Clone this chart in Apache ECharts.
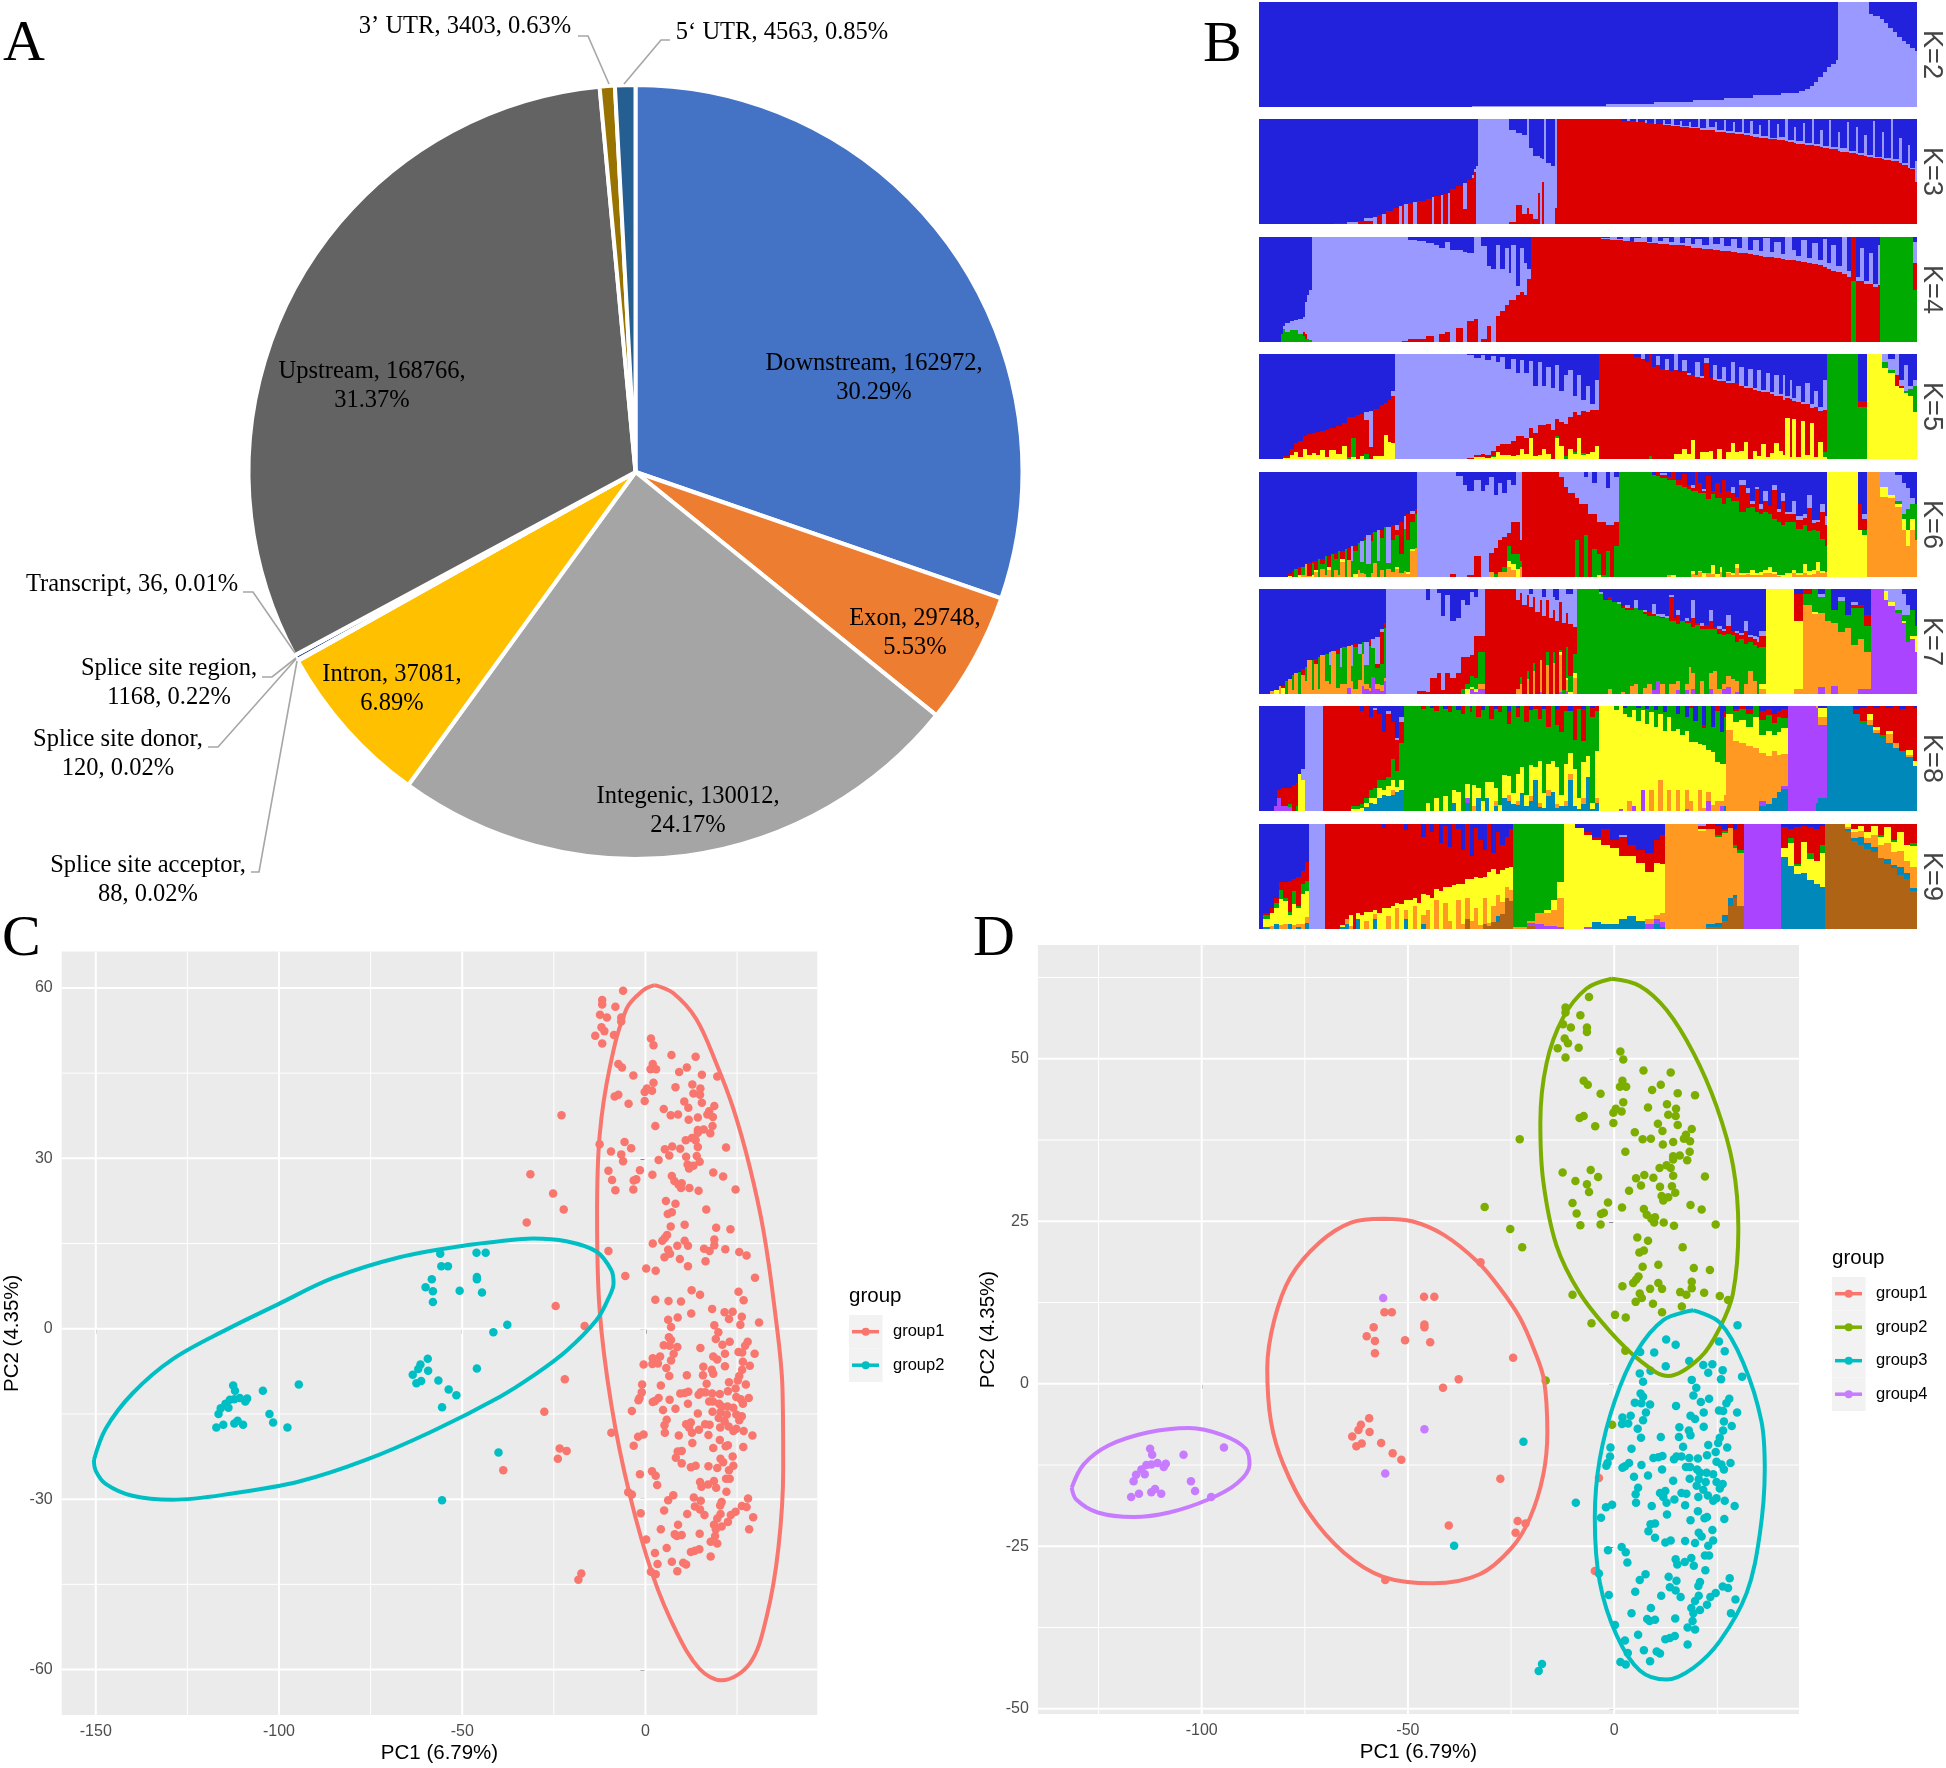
<!DOCTYPE html>
<html><head><meta charset="utf-8"><style>html,body{margin:0;padding:0;background:#fff}#c{width:1946px;height:1768px}</style>
<script src="https://cdn.jsdelivr.net/npm/echarts@6/dist/echarts.min.js"></script></head><body><div id="c"></div><script>
// ---------- A: annotation pie ----------
const pieNames=['Downstream','Exon','Integenic','Intron','Splice site acceptor','Splice site donor','Splice site region','Transcript','Upstream','3’ UTR','5‘ UTR'];
const pieValues=[162972,29748,130012,37081,88,120,1168,36,168766,3403,4563];
const pieLabels=['Downstream, 162972,\n30.29%','Exon, 29748,\n5.53%','Integenic, 130012,\n24.17%','Intron, 37081,\n6.89%','Splice site acceptor,\n88, 0.02%','Splice site donor,\n120, 0.02%','Splice site region,\n1168, 0.22%','Transcript, 36, 0.01%','Upstream, 168766,\n31.37%','3’ UTR, 3403, 0.63%','5‘ UTR, 4563, 0.85%'];
const pieColors=['#4472C4','#ED7D31','#A5A5A5','#FFC000','#5B9BD5','#70AD47','#264478','#9E480E','#636363','#997300','#255E91'];
const pieLabelAt=[[874,378],[915,633],[688,811],[392,689],[148,880],[118,754],[169,683],[132,585],[372,386],[465,27],[782,33]];
const leaders=[[[578,36],[588,36],[609,84]],[[670,40],[661,40],[624,84]],[[243,592],[253,592],[295,653]],[[262,677],[272,677],[296,658]],[[208,747],[218,747],[296,659]],[[251,872],[259,872],[297,661]]];

// ---------- B: ancestry proportions; each row = [first individual, share of each cluster top-down]; the last cluster takes the rest ----------
const clusterColors=['#2222DC','#9999FF','#DD0000','#00AA00','#FFFF22','#FF9922','#AA44FF','#0088BB','#AE6414'];
const kRows2=[[0,100],[97,99.5],[130,99],[158,97.5],[180,95.5],[198,93],[212,91],[225,89],[238,87],[246,85],[249,83],[251,80],[253,76],[255,71],[257,67],[259,62],[261,59],[263,55],[264,0],[278,11],[280,13],[283,16],[285,20],[287,25],[289,29],[291,33],[293,37],[295,40],[297,44],[299,47]];
const kRows3=[[0,100],[34,99],[40,98,2],[45,97],[48,94,3],[52,93,7],[54,91],[56,90,10],[58,88],[61,85],[64,83,17],[65,82],[66,81,19],[68,80],[70,79,21],[72,78],[76,76],[79,74,26],[80,73],[83,72,28],[84,71],[86,70,30],[87,67],[90,64],[93,61,25],[95,58],[97,53,3],[98,48,2],[99,45,55],[100,0,100],[114,10,88],[117,13,69],[120,15,75],[122,0,85],[123,28,62],[125,35,60],[127,35,35],[128,37,63],[129,38,22],[130,0,100],[131,42,58],[133,45,55],[135,0,85],[136,0,0],[165,2,0],[168,0,2],[169,2,0],[172,0,3],[173,3,0],[176,1,3],[177,4,0],[180,0,5],[181,5,0],[184,1,5],[185,5,1],[188,0,7],[189,6,1],[192,2,6],[193,7,1],[196,3,6],[197,8,1],[200,0,9],[201,9,1],[204,0,10],[205,8,2],[208,3,9],[209,10,2],[212,1,11],[213,11,2],[216,3,10],[217,12,2],[220,0,14],[221,13,2],[224,2,14],[225,14,3],[228,6,12],[229,16,2],[232,1,18],[233,18,1],[236,5,15],[237,17,3],[240,0,21],[241,20,2],[244,8,15],[245,21,3],[248,4,20],[249,23,2],[252,0,25],[253,24,2],[256,10,17],[257,26,2],[260,1,28],[261,27,2],[264,12,18],[265,28,3],[268,3,28],[269,30,2],[272,8,25],[273,32,2],[276,15,20],[277,34,2],[280,2,35],[281,36,1],[284,12,26],[285,37,2],[288,0,40],[289,38,2],[292,18,24],[293,42,2],[296,25,22],[297,47,1],[299,40,20]];
const kRows4=[[0,100,0,0],[10,92,0,0],[11,85,3,0],[12,82,8,0],[14,80,9,0],[16,79,10,0],[18,78,14,0],[20,76,14,4],[21,62,30,5],[22,55,42,0],[23,50,48,0],[24,0,100,0],[65,0,99,1],[68,3,94,3],[72,4,93,3],[76,6,88,6],[80,8,92,0],[82,10,82,8],[85,5,85,10],[87,12,88,0],[90,12,75,13],[93,14,86,0],[95,15,65,20],[98,0,78,22],[100,0,100,0],[101,9,88,3],[104,28,57,15],[106,30,70,0],[108,8,67,25],[110,30,40,30],[112,10,55,35],[114,34,26,40],[115,8,52,40],[117,47,8,45],[119,10,42,48],[121,25,30,45],[122,30,10,60],[124,0,0,100],[156,1,1,98],[160,0,3,97],[163,2,1,97],[166,0,4,96],[169,4,0,96],[171,1,4,95],[174,0,5,95],[177,5,1,94],[179,0,6,94],[182,4,3,93],[184,1,6,93],[187,5,3,92],[189,0,8,92],[192,6,2,92],[194,1,8,91],[197,7,3,90],[199,2,8,90],[202,8,3,89],[205,0,11,89],[207,7,5,88],[210,1,12,87],[212,9,4,87],[215,2,12,86],[218,10,5,85],[220,0,15,85],[223,12,4,84],[225,3,14,83],[228,13,5,82],[230,1,18,81],[233,14,5,81],[235,5,15,80],[238,16,5,79],[240,0,22,78],[243,12,10,78],[245,18,5,77],[247,3,21,76],[250,20,5,75],[252,6,20,74],[255,22,5,73],[257,2,27,71],[259,25,5,70],[261,8,24,68],[263,28,5,67],[266,0,35,65],[268,32,6,62],[270,0,0,42],[272,38,4,58],[274,10,32,58],[276,42,3,55],[278,15,30,55],[280,45,3,52],[282,8,38,54],[283,0,0,0],[298,5,20,25]];
const kRows5=[[0,100],[11,97,0,2,0],[14,90,0,6,0],[16,85,0,8,0],[18,83,0,15,0],[20,78,0,12,0],[22,76,0,20,0],[24,75,0,19,0],[26,74,0,22,0],[28,73,0,18,0],[30,72,0,26,0],[32,70,0,21,0],[35,69,0,26,0],[38,66,0,22,0],[40,60,0,38,2],[42,60,0,20,18],[44,58,0,42,0],[46,57,0,40,0],[48,55,8,32,5],[50,54,35,11,0],[52,52,0,45,0],[55,49,0,48,0],[57,47,0,30,0],[59,44,0,40,0],[60,35,5,45,0],[62,0,100,0,0],[95,1,98,1,0],[98,4,92,2,0],[101,1,94,3,0],[103,6,90,3,0],[106,2,90,5,1],[108,8,80,5,0],[110,3,83,10,0],[112,14,72,10,0],[115,5,78,14,0],[117,18,60,18,0],[119,6,72,12,0],[121,18,62,15,0],[123,7,63,10,0],[125,30,45,22,0],[127,8,60,28,0],[129,30,38,22,0],[131,12,55,28,0],[133,32,40,28,0],[135,10,52,16,2],[137,35,30,23,0],[139,20,47,30,3],[141,15,45,30,0],[143,40,15,38,2],[145,20,38,22,0],[147,44,10,40,2],[149,30,25,40,0],[151,48,5,40,0],[153,25,28,35,0],[155,0,0,100,0],[171,3,0,97,0],[174,0,5,95,0],[176,8,0,92,0],[178,0,0,97,3],[179,12,0,88,0],[181,2,8,90,0],[183,14,0,86,0],[185,5,10,85,0],[187,16,0,84,0],[189,0,15,80,0],[191,17,0,78,0],[193,6,10,74,0],[195,18,2,75,0],[197,20,0,62,0],[199,8,14,78,0],[201,21,2,70,0],[203,4,5,84,0],[205,23,0,69,0],[207,10,15,75,0],[209,24,2,64,0],[211,12,14,74,0],[213,26,2,65,0],[215,8,20,57,0],[217,28,0,65,0],[219,12,18,62,0],[221,30,2,52,0],[223,14,18,68,0],[225,32,2,58,0],[227,15,20,62,0],[229,34,2,50,0],[231,18,18,62,0],[233,36,2,56,0],[235,20,20,45,0],[237,38,2,52,0],[239,20,24,52,0],[240,40,2,19,0],[242,25,18,55,0],[243,42,3,17,0],[245,30,16,52,0],[247,46,2,16,0],[249,28,20,48,0],[251,48,3,15,0],[253,35,15,48,0],[255,50,4,30,0],[257,25,28,40,5],[259,0,0,0,100],[273,45,0,5,50],[277],[284,0,8,0,5],[287,5,10,0,3],[290,0,20,10,0],[292,25,5,2,0],[294,10,25,0,2],[296,30,3,0,7],[298,25,5,0,25]];
const kRows6=[[0,100],[13,97,0,2,0,1],[15,94,0,6],[16,92,0,0,8],[18,90,0,8,0,2],[19,90,0,0,8],[21,88,0,0,0,0],[22,87,0,12,0],[24,85,0,2,11,2],[25,85,0,8,0,2],[27,83,0,0,17,0],[28,83,0,5,4,0],[30,80,0,0,18,0],[31,80,0,10,0,3],[33,78,0,0,22,0],[34,77,0,6,10,0],[36,75,0,0,23,0],[37,75,0,8,0,3],[39,73,0,0,27,0],[40,72,0,12,0,0],[42,70,15,0,15,0],[43,70,0,5,22,3],[45,68,0,0,25,0],[46,66,20,0,10,0],[48,62,0,3,32,0],[49,60,28,0,12,0],[51,58,0,8,30,0],[52,57,0,0,30,0],[54,55,30,0,15,0],[55,55,0,8,30,0],[57,52,0,0,48,0],[58,52,35,0,5,0],[60,50,0,15,30,0],[62,50,5,5,30,2],[64,48,0,30,18,0],[66,42,12,0,40,0],[67,40,0,25,30,2],[69,37,3,8,25,2],[71,35,0,5,32,0],[72,0,100,0,0,0],[87,0,97,3,0,0],[90,4,96,0,0,0],[93,12,88,0,0,0],[95,18,80,2,0,0],[98,8,72,20,0,0],[101,18,82,0,0,0],[103,12,88,0,0,0],[105,5,72,18,0,0],[107,22,50,25,3,0],[109,10,55,30,0,0],[111,20,42,28,5,0],[113,8,50,12,15,5],[115,12,36,30,10,5],[117,0,48,30,14,8],[119,0,65,20,5,0],[120,0,0,100],[137,0,5,95],[139,0,14,86],[141,0,20,80],[144,0,25,40,35],[146,0,30,70],[148,5,25,30,40],[150,0,40,60],[152,10,30,33,27],[154,0,48,30,20,2],[156,0,48,50,2],[158,15,35,25,25],[160,0,50,50],[162,5,43,22,30],[164,0,0,0,100],[179,3,0,0,97],[181,0,0,4,96],[183,1,2,3,94],[186,5,0,3,90,0],[188,0,0,8,90,2],[190,8,0,4,88],[193,2,0,12,86],[195,12,0,4,84],[197,12,3,3,76,3],[199,0,0,18,80,0],[200,10,0,10,74,1],[202,16,2,2,76,4],[204,4,0,22,70],[206,18,0,3,68,8],[208,10,0,15,72,3],[210,20,0,5,65,5],[211,8,0,22,70],[213,18,0,7,70,1],[215,14,6,8,68,2],[217,24,0,4,60,3],[219,8,4,26,58,2],[222,15,5,14,62,1],[224,28,2,3,60,5],[226,14,2,22,58,2],[228,30,5,5,55,3],[230,18,10,10,55,3],[232,32,0,8,50,6],[234,12,5,28,50,2],[236,35,3,10,50,1],[238,20,8,22,48,2],[240,38,2,8,48,4],[243,28,12,8,45,3],[245,42,4,8,42,2],[248,40,4,6,38,8],[250,22,12,22,38,4],[252,46,3,6,38,4],[254,46,2,8,30,8],[256,30,8,26,30,2],[258,42,8,20,25,0],[259,0,0,0,0,100],[273,30,0,25,0,45],[275,40,5,10,5,40],[277],[283,0,14,0,0,10],[287,0,22,0,0,3],[290,3,25,0,2,3],[293,10,30,0,5,10],[295,15,20,0,20,15],[297,25,5,0,15,10],[299,30,0,0,35,0]];
const kRows7=[[0,100],[5,97,0,0,0,0,3],[7,96,0,0,0,4,0],[9,92,0,0,0,0,8],[10,92,0,2,0,6,0],[12,88,0,0,12,0,0],[13,86,0,0,0,0,14],[15,82,0,0,14,0,4],[16,80,0,0,0,0,20],[18,79,0,0,21,0,0],[19,76,0,6,0,0,18],[21,74,0,0,14,0,12],[22,68,0,0,0,0,32],[24,68,0,0,28,0,4],[25,67,0,4,0,0,29],[27,65,0,0,30,0,5],[28,63,0,0,0,0,37],[30,62,0,0,26,0,12],[32,60,12,0,18,0,10],[33,59,0,0,0,0,41],[35,58,0,4,32,0,6],[37,56,18,0,16,0,10],[38,55,0,0,35,0,10],[40,54,0,0,0,0,40],[42,53,20,0,15,0,12],[43,52,0,3,40,0,5],[45,52,10,0,25,0,13],[47,50,0,0,12,0,30],[48,50,22,0,18,0,5],[50,48,0,6,40,0,3],[51,48,8,0,28,0,0],[53,46,25,4,15,0,5],[55,38,3,30,20,0,6],[57,32,0,5,48,0,3],[58,0,100],[72,0,97,3],[76,10,88,2],[78,0,85,15],[81,4,76,20],[83,26,70,4],[85,6,74,20],[87,30,55,15],[90,28,52,20],[92,10,55,30,5],[94,15,50,25,5,5],[96,3,60,20,10,2],[98,8,37,40,10,3,0],[100,0,45,15,30,0,5],[103,0,0,100],[117,0,10,85,0,0,5],[119,0,4,80,6,0,10],[120,0,15,85,0,0,0],[122,0,6,72,8,0,14],[123,5,12,83,0,0,0],[125,0,8,62,8,0,22],[126,0,22,78,0,0,0],[128,0,10,58,0,0,30],[129,8,18,74,0,0,0],[131,0,10,50,12,0,28],[132,0,28,72,0,0,0],[134,8,12,40,10,0,30],[135,10,20,70,0,0,0],[137,0,12,46,2,3,35],[138,0,32,64,4,0,0],[140,5,18,32,30,2,10],[141,5,28,50,15,2,0],[143,0,36,26,18,5,15],[145,0,0,0,100],[155,3,2,0,95],[157,10,0,0,90],[159,8,0,2,85,0,5],[161,12,0,0,88],[163,12,2,0,86],[165,16,0,2,80,0,2],[167,15,3,2,80],[169,18,0,2,72,0,8],[171,10,8,0,72,0,10],[173,20,0,0,80],[175,20,2,2,70,0,6],[177,22,0,4,64,0,10],[179,14,10,2,70,0,0],[181,24,2,0,62,0,0],[183,24,3,1,62,0,10],[185,26,2,0,72],[187,6,2,22,60,0,10],[189,28,0,2,60,0,10],[190,20,5,8,55,0,8],[192,30,0,0,70],[194,28,2,2,58,0,6],[196,30,0,2,42,0,26],[197,10,18,8,44,0,15],[199,32,0,2,66],[201,32,3,3,50,0,12],[203,34,0,4,62],[205,20,10,8,42,0,15],[207,36,0,2,40,0,22],[209,35,3,5,52,0,5],[211,38,2,4,46,0,5],[213,25,10,8,40,0,10],[215,40,0,4,42,0,14],[217,40,2,8,38,0,10],[219,42,2,4,52],[221,30,10,12,38,0,10],[223,44,2,4,28,0,22],[225,45,3,5,35,0,12],[227,46,4,6,44],[228,40,5,10,35,5,5],[231,0,0,0,0,100],[244,5,0,25,0,65,5],[248,0,0,5,10,0,85],[252,0,0,0,22,2,76],[255,5,3,0,15,0,70],[258,0,0,0,30,0,70],[261,20,0,0,12,0,60],[264,8,3,0,30,0,59],[267,25,0,0,12,0,63],[270,12,3,3,35,0,47],[273,15,0,3,30,0,47],[276,25,0,10,25,0,35],[279],[285,0,2,0,0,8,0],[287,0,12,0,0,4,0],[290,0,20,0,3,0,0],[293,5,20,0,5,2,0],[295,15,10,0,25,0,0],[297,20,0,0,25,3,0],[299,35,0,0,10,15,0]];
const kRows8=[[0,100],[7,95,0,0,0,0,0,5],[8,80,0,8,0,0,0,12],[10,78,0,17,0,0,0,5],[13,78,0,15,3,0,0,4],[15,75,0,25],[17,73,0,22,5],[18,65,0,0,0,35],[19,60,10,0,0,30],[21,0,100],[29,0,0,100],[42,0,0,95,3,2],[46,5,0,88,4,3],[48,0,0,88,4,4],[50,10,0,70,8,4],[52,2,2,74,10,5],[54,8,0,62,8,10],[56,25,0,45,10,5],[58,5,3,60,8,10],[60,15,0,35,20,10,5],[62,30,2,30,15,5],[64,10,5,20,35,10],[66,0,0,0,100],[74,0,0,3,97],[76,0,0,0,92,8],[78,2,0,0,98],[80,0,0,5,83,12],[82,0,0,0,100],[84,3,0,0,83,14],[86,0,0,6,94],[88,0,0,0,80,12,0,0],[90,4,0,0,78,18],[92,0,0,8,92],[94,0,0,0,74,14,0,4],[96,2,0,4,94],[97,0,0,0,75,20,5],[99,0,0,10,68,10,0,0],[101,4,0,0,86,10],[103,0,0,0,72,16,0,0],[105,0,0,12,60,28],[107,3,0,0,75,12,5],[109,0,0,6,88,6],[111,0,0,0,66,22,0,0],[113,5,0,12,50,18,5],[115,0,0,0,83,10],[117,2,0,8,55,25,4,0],[119,0,0,0,58,25],[121,0,0,15,70,10],[123,4,0,0,52,30,4],[125,0,0,3,55,12],[127,0,0,12,40,40,4],[129,3,0,0,80,14],[131,0,0,20,35,25,6],[133,0,0,0,52,30],[135,3,0,15,40,35,4],[137,0,0,25,60,10],[139,0,0,5,50,35,5],[141,5,0,0,40,20,5],[143,0,0,32,28,35,0],[145,0,0,3,85,10],[147,3,0,30,20,35,5],[149,0,0,0,48,20],[151,2,0,8,82,6],[153,0,0,5,38,45,4],[155,0,0,0,0,100],[162,0,0,0,4,96],[164,0,0,0,0,98,0,2],[166,2,0,0,6,92],[168,0,0,0,10,80,10],[170,0,0,0,4,91,0,5],[172,2,0,0,12,86],[174,0,0,0,4,76,0,20],[176,3,0,0,14,83],[178,0,0,0,6,74,20],[180,4,0,0,16,80],[182,0,0,0,8,62,30],[184,6,0,0,18,76],[186,0,0,0,10,70,20],[188,0,0,0,24,76],[190,8,0,0,14,58,20],[192,0,0,0,28,72],[194,10,0,0,14,56,18,2],[196,0,0,2,32,56,10],[198,14,0,0,20,66],[200,0,0,0,36,44,20],[202,18,0,3,16,60,3],[204,0,0,0,42,40,8,10],[206,20,0,0,24,50,6],[208,0,0,5,48,37,10],[210,25,0,0,30,35,5,5],[212,5,0,5,45,30,10],[213,0,0,0,8,15,77],[216,3,0,2,10,18,67],[219,0,0,3,10,22,65],[222,3,0,5,12,18,62],[225,0,0,0,10,30,60],[228,5,0,8,15,17,45,5],[231,3,0,6,15,24,45],[234,8,0,8,12,15,45],[236,5,0,5,15,22,35],[238,3,0,8,10,25,30,3],[241,0,0,0,0,0,0,100],[254,0,0,0,0,0,2,90],[255,2,0,0,0,8,8,70],[259],[271,3,0,5],[274,2,0,12,2],[277,0,0,8,0,5,5],[280,2,0,18,0,3,3],[283,0,0,28,2],[286,2,0,22,0,3,8],[289,0,0,35,0,0,5],[292,3,0,40],[295,0,0,42,0,5,2],[298,2,0,50,0,5,0]];
const kRows9=[[0,100],[2,85,0,2,3,8,0,0,2],[5,80,0,5,0,12,3,0,0],[7,70,0,5,5,15,0,0,5],[9,55,0,8,8,25,4,0,0],[11,55,0,15,3,22,5,0,0],[13,54,0,30,3,8,0,0,5],[15,52,0,12,12,20,4,0,0],[17,50,0,28,2,15,3,0,2],[19,45,0,12,10,28,5,0,0],[21,36,0,18,10,25,5,0,6],[23,0,100],[30,0,0,100],[37,0,0,96,0,2,0,0,2],[39,0,0,90,0,0,5,0,5],[41,0,0,87,0,10,3],[43,0,0,100],[44,0,0,85,0,5,0,0,10],[46,0,0,87,0,13],[48,0,0,84,0,8,8],[50,0,0,84,0,16],[52,0,0,82,0,4,4,0,10],[54,0,0,85,0,15],[56,4,0,76,0,20],[58,0,0,80,0,8,12],[60,0,0,78,0,22],[62,0,0,75,0,5,20],[64,0,0,76,0,24],[66,6,0,66,0,10,8,0,10],[68,0,0,72,0,28],[70,0,0,70,0,8,22],[72,0,0,75,0,25],[74,12,0,55,0,20,8,0,5],[76,0,0,68,0,14,18],[78,8,0,62,0,30],[80,0,0,62,0,10,28],[82,18,0,46,0,36],[84,2,0,58,0,15,25],[86,22,0,38,0,32,8],[88,0,0,58,0,42],[90,5,0,52,0,15,28],[92,25,0,32,0,38,5],[94,0,0,52,0,18,20],[96,30,0,22,0,40,8],[98,4,0,46,0,30,20],[100,15,0,36,0,45,4],[102,25,0,25,0,20,25],[104,0,0,46,0,48,3],[106,28,0,15,0,35,15],[108,8,0,40,0,20,20,0,5],[110,20,0,24,0,30,12],[112,12,0,30,0,18,10,0,0],[114,5,0,36,0,22,10],[116,0,0,0,98,0,2],[122,0,0,0,92,0,2,3,0],[126,0,0,0,85,0,10,5],[130,0,0,0,82,3,12,3],[133,0,0,0,72,10,15,3],[136,0,0,0,55,15,28,2],[139,0,0,0,0,100],[144,4,0,0,0,96],[148,8,0,2,0,88,0,2],[152,12,0,3,0,78,0,0,7],[156,5,0,15,0,75,0,0,5],[160,15,0,8,0,72,0,0,5],[164,10,2,18,0,60,0,0,10],[168,20,0,10,0,58,0,0,12],[172,25,0,12,0,55,0,0,8],[176,28,0,18,0,44,5,5],[180,15,0,22,0,50,3,5,5],[183,10,0,28,0,47,8,5,2],[185,0,0,0,0,0,100],[200,0,2,3,0,2,93],[204,0,0,5,0,0,90,0,3],[208,2,0,8,2,0,82,0,4],[211,5,0,2,2,0,78,0,5],[214,0,0,4,0,0,66,0,8],[216,5,0,15,3,0,45,0,2],[218,0,0,25,3,0,50,0,0],[221,0,0,0,0,0,0,100],[238,3,0,20,0,8,0,0,69],[241,5,0,8,5,22,0,0,60],[244,3,0,35,2,8,0,0,52],[247,2,0,15,0,30,0,0,53],[250,3,0,25,5,20,0,0,47],[253,5,0,30,0,22,0,0,43],[256,2,0,18,8,32,0,0,40],[258],[267,0,0,0,0,3,2,0,2],[270,0,0,5,0,3,5,0,3],[273,0,0,2,0,5,5,0,8],[276,0,0,8,0,5,5,0,6],[279,0,0,2,0,8,12,0,5],[282,0,0,10,2,8,12,0,0],[285,0,0,3,0,15,15,0,5],[288,0,0,15,2,10,12,0,3],[291,0,0,8,0,18,15,0,8],[294,0,0,20,0,15,12,0,5],[297,0,0,18,3,20,20,0,3]];
const kPanels=[[2,kRows2,2],[3,kRows3,119],[4,kRows4,237],[5,kRows5,354],[6,kRows6,472],[7,kRows7,589],[8,kRows8,706],[9,kRows9,824]];

// ---------- C, D: PCA points ----------
const ptsFar=[[-94.6,-9.8],[-104.4,-10.9],[-112.5,-10],[-112,-10.9],[-108.7,-12.3],[-109.2,-12.8],[-110.7,-12.2],[-112.2,-12.4],[-113.4,-12.5],[-114.6,-13.2],[-115.9,-14],[-113.8,-13.9],[-116.5,-15],[-102.6,-15],[-101.6,-16.5],[-97.7,-17.4],[-117.1,-17.4],[-115.2,-16.9],[-112.2,-16.7],[-111.3,-16.2],[-109.8,-16.9]];
const ptsMidPurple=[[-56,13.2],[-46,-7],[-55.5,-13.8]];
const ptsMid=[[-46.1,13.4],[-43.6,13.4],[-55.7,11],[-53.9,11],[-58.3,8.7],[-46,9.1],[-46,8.7],[-60,7.3],[-58,6.6],[-50.7,6.7],[-44.6,6.4],[-58,4.7],[-37.7,0.7],[-41.5,-0.6],[-59.4,-5.3],[-61.4,-6.3],[-62,-7.1],[-59.3,-7.4],[-63.5,-8.1],[-61.2,-9.2],[-62.5,-9.6],[-56.5,-9.1],[-53.7,-10.7],[-51.6,-11.7],[-40.1,-21.8],[-55.5,-30.2]];
const ptsOut=[[-32.4,18.7],[-24.5,4],[-27.6,-14.6],[-23.4,-21.1],[-21.5,-21.5],[-23.9,-22.9],[-3.7,-14.5],[-4.7,-28.8]];
const ptsGreen=[[-22.9,37.6],[-31.4,27.2],[-25.2,23.8],[-22.3,21],[-16.6,0.5],[-0.5,-6.3],[-6.1,59.5],[-11.8,57.9],[-11.8,57.1],[-8.2,56.7],[-12.4,55.3],[-10.5,54.8],[-6.6,54.8],[-6.6,54.1],[-12,53.1],[-11.2,52.4],[-13.7,51.6],[-8.6,51.7],[-11.8,50.2],[1.5,51.1],[2.2,49.9],[7.1,48.2],[13.7,47.9],[-7.4,46.6],[-6.4,46],[2,46.6],[1.4,45.7],[2.9,45.7],[11.3,46],[9.2,45.2],[-3.3,44.6],[15.4,44.7],[19.6,44.4],[2.2,43.3],[12.8,43],[8.2,42.5],[15,42.3],[0.4,42.3],[-0.2,41.7],[1.8,41.9],[13.1,41.4],[14.9,41.2],[-7.4,41.2],[-8.4,40.9],[-0.2,40.1],[-4.6,39.6],[10.6,40],[15.4,39.8],[18.8,39.2],[11.7,38.9],[5,38.7],[17.4,38.3],[16.9,37.7],[6.9,37.6],[8.9,37.7],[18.4,37.3],[11.8,36.8],[14.3,37.2],[2.7,35.7],[18.3,35.7],[15.9,35.1],[14.3,35],[14.3,34.5],[17.7,34.4],[11,33.2],[12.7,33.6],[13.7,33.2],[-5.7,32.9],[-12.5,32.5],[-3.9,31.8],[7.3,32.1],[9.5,31.7],[14.3,32],[5.3,31.6],[22,31.9],[-9.4,31.2],[-6.6,30.7],[6.5,30.5],[11.1,30.3],[14,30.4],[3.6,29.7],[-6.1,29.5],[14.8,29.4],[11.5,28.9],[13.1,28.7],[11.9,28.2],[-10.1,27.8],[-1.5,27.9],[18.5,27.5],[1.9,27.1],[7.2,26.9],[21.2,26.8],[-2.5,26.3],[-3.2,26.1],[-9.1,26.2],[7.9,26],[9.9,25.6],[9,25.4],[9.7,24.8],[12,24.8],[-8.2,24.4],[-3.3,24.5],[14.5,24.3],[24.6,24.5],[5.6,22.5],[8.2,22],[16.6,21],[7.2,20.5],[6.1,20.2],[6.9,18],[10.7,18.3],[19.3,17.8],[23.2,17.5],[5.9,16.5],[5.3,16],[4.6,15.5],[2,15],[10.7,15.5],[8.7,14.6],[11.6,14.6],[18.8,15.7],[18.8,14.7],[16,14.1],[17.5,13.7],[21.8,14],[25.6,13.5],[6.2,13.9],[6.7,13.2],[-10.1,13.7],[5.2,12.6],[9.4,12.3],[27.6,12.9],[16.4,11.9],[11.6,11],[0.2,10.6],[2.8,10.2],[-5.5,9.3],[2.7,5.1]];
const ptsTeal=[[-22,-8.9],[-38.8,-24.9],[-9.3,-18.3],[-17.5,-43.1],[-18.3,-44.2],[29.9,9],[12.6,6.8],[14.9,6],[25.4,6.5],[26.8,5],[6.3,4.9],[9.7,4.8],[18.2,3.5],[12.5,2.7],[23.8,3],[21.6,2.9],[22.8,1.7],[26.3,2.1],[31,1.1],[8.8,2],[6.2,1.6],[18.8,0.6],[7,0.3],[25.9,0.7],[19.9,-0.6],[6.4,-1.5],[19.2,-1.8],[7,-2],[27.9,-2.3],[23,-2.3],[21,-2.8],[27.2,-3],[5,-2.9],[8.7,-3.2],[15,-3.4],[6.6,-3],[25.4,-4.1],[21.7,-4.4],[7.7,-4.4],[26.4,-4.2],[29.8,-4.4],[4,-4.9],[18.5,-4.9],[19.6,-5.4],[2,-5.2],[7,-5.6],[1.9,-6.2],[3.4,-6.1],[26.6,-5.8],[21.7,-6.6],[28.5,-6.5],[26.4,-7.2],[15.8,-6.7],[5.7,-6.9],[18.1,-7.2],[18.5,-7.9],[15.7,-8.2],[11.3,-8.2],[6.5,-8.3],[25.6,-8.3],[25.2,-9.1],[22.8,-9.4],[27.4,-9.8],[16.7,-9.7],[-0.9,-9.8],[4.2,-10],[24.6,-10.5],[22.5,-11],[-1,-11.2],[10.7,-11.3],[9.5,-11.4],[11.7,-11.1],[15.1,-11.2],[16.3,-11.2],[20.3,-11.5],[14.5,-11.6],[18.2,-11.4],[28.2,-12.2],[24.8,-12],[26,-12.4],[-1.6,-12.2],[3.6,-12.2],[-1.9,-12.6],[2.6,-12.7],[6.6,-12.5],[2,-12.9],[11.6,-13.2],[17.4,-12.8],[18.4,-12.8],[20.1,-13.2],[20.8,-13.7],[22.4,-13.7],[24,-13.9],[26.6,-13.2],[8.2,-14.1],[4.8,-14.3],[14.3,-14.9],[18.3,-14.6],[20.5,-14.7],[24.8,-15.1],[26.3,-15.4],[22.2,-15.1],[5.8,-16],[20,-15.7],[25.6,-16.1],[21.6,-16.3],[12.4,-16.5],[11.1,-16.8],[16.3,-16.8],[17.5,-16.9],[5.2,-17],[11.9,-17.4],[20.4,-17.4],[22.7,-17.2],[14.6,-17.8],[24.8,-17.6],[24,-18],[12.7,-18.3],[5.3,-18.3],[26.8,-18],[-0.5,-18.6],[-2,-19],[9.1,-18.8],[17.2,-18.7],[29.2,-18.8],[20.3,-19.6],[12.8,-20.1],[-3.2,-20.6],[22.5,-20.5],[21.9,-20.7],[26.7,-20.8],[18.5,-21],[9.9,-21.5],[8.8,-21.6],[23.8,-22.5],[8.3,-22.7],[20.5,-22.9],[9.9,-23.7],[21.2,-23.5],[24,-24.1],[13.7,-24.1],[12.4,-24.4],[17.2,-24.2],[19.6,-24.5],[22.8,-24.9],[1.8,-25.1],[-1.5,-25.6],[2.8,-25.9],[22,-26.4],[23,-26.4],[14.9,-27],[18.7,-26.8],[15.3,-27.8],[17.1,-27.4],[19.3,-28],[3.2,-27.5],[22.1,-28.7],[7.6,-29.3],[-3.7,-29.2],[6.2,-30.2],[13.2,-29.7],[28,-29.9],[15.1,-30.3],[20.8,-30.5],[20.4,-31.1],[13.5,-31.3],[14.9,-31.8],[26.3,-31.2],[27.6,-31.4],[5.1,-32],[16.1,-32.8],[11.4,-32.6],[-1.3,-32.5],[24.6,-32.2],[23.3,-32.8],[20.5,-32.6],[19.6,-33.4],[29.4,-33.2],[22.5,-34],[18.7,-34.5],[8.9,-34.5],[20.8,-34.8],[4.2,-35.3],[28.3,-35.3],[19.2,-35.3],[14.8,-36.1],[8,-36.2],[9.9,-36.3],[19,-36.5],[8.6,-36.5],[0.2,-37.1],[17.8,-37.5],[19.6,-37.8],[5.8,-38.6],[14.7,-38.8],[13.5,-39.1],[12.4,-39.3],[2.6,-39.5],[17.8,-40.1],[7.2,-41],[10.3,-41.2],[3.3,-41.4],[11.1,-41.5],[8.7,-42.7],[1.5,-42.8],[2.8,-43.2]];
// ellipse outlines
const cEllipse1=[[2.55,60.5],[7.56,59.1],[13.9,54.5],[19.4,46.6],[24,38.7],[28.5,28.4],[32.2,17.3],[35.3,3.3],[37.4,-10.6],[37.6,-24.5],[36.3,-38.5],[33.1,-50.6],[28.5,-58.9],[20.8,-61.9],[14.8,-59.9],[8.5,-53.4],[2.1,-43.6],[-4.3,-29.2],[-9.3,-13.4],[-12.5,3.3],[-13.2,20.1],[-12.5,34],[-9.7,46.1],[-5.2,56.3],[-0.6,59.6],[2.55,60.5]];
const cEllipse2=[[-150.5,-23.1],[-147.3,-17.6],[-140,-11.4],[-129.1,-5.4],[-114.5,-0.2],[-100.3,4.3],[-85.4,8.9],[-67.1,12.6],[-48.9,14.7],[-39.8,15.4],[-30.7,15.9],[-21.6,15.4],[-13.4,13.6],[-9.3,10.3],[-8.7,8],[-10.2,5.2],[-13.4,1.5],[-21.6,-3.9],[-30.7,-8.3],[-39.8,-12],[-58,-18],[-76.3,-23.1],[-94.5,-26.9],[-112.7,-29],[-129.1,-30.1],[-140,-29.4],[-147.3,-27.3],[-150,-25],[-150.5,-23.1]];
const dEllipse1=[[-56,25.4],[-63.8,24.8],[-71.5,21.7],[-78.5,16.4],[-82.4,9.8],[-84.1,2.4],[-83.2,-5.8],[-80.2,-12.4],[-74.1,-19.8],[-65.5,-26],[-56,-29.7],[-43.9,-30.7],[-32.6,-29.3],[-24.8,-25.2],[-20.4,-20.6],[-17.2,-14],[-16.2,-7.5],[-17,0.5],[-19.2,4.9],[-22.9,10.2],[-27.7,14.7],[-33,18.7],[-41.3,22.9],[-49,25],[-56,25.4]];
const dEllipse2=[[-0.6,62.3],[6.2,61.2],[12.7,57.5],[19.2,50.9],[24.8,42.7],[28.8,33.6],[30.1,23.8],[28.8,13.9],[25.6,8.6],[20.8,4],[13.1,1.2],[6.2,3.6],[-1.1,8.1],[-8.3,13.9],[-14,21.3],[-17.2,31.2],[-17.9,40.2],[-16.4,49.3],[-12.4,56.3],[-6.7,60.8],[-0.6,62.3]];
const dEllipse3=[[19.2,11.3],[25.6,9.4],[31.3,3.2],[35.7,-5.8],[36.5,-13.2],[35.3,-23.1],[32.1,-32.2],[25.6,-39.6],[19.2,-43.7],[12.7,-45.5],[6.2,-44.1],[0.6,-38.7],[-3.5,-30.5],[-4.7,-20.6],[-3.5,-11.6],[0.2,-2.5],[5.4,4.9],[11.9,9.8],[19.2,11.3]];
const dEllipse4=[[-131.5,-16],[-128.6,-12.4],[-122.6,-9.5],[-113.1,-7.5],[-103.1,-6.8],[-94.9,-7.9],[-89.3,-10],[-88.4,-12.4],[-91.4,-15.3],[-98.4,-17.8],[-107.9,-19.8],[-116.5,-20.5],[-125.2,-19.8],[-130.4,-17.8],[-131.5,-16]];
const cXMajor=[-150,-100,-50,0], cXMinor=[-125,-75,-25,25], cYMajor=[-60,-30,0,30,60], cYMinor=[-45,-15,15,45];
const dXMajor=[-100,-50,0], dXMinor=[-125,-75,-25,25], dYMajor=[-50,-25,0,25,50], dYMinor=[-37.5,-12.5,12.5,37.5,62.5];
const COL={g1:'#F8766D',g2:'#7CAE00',g3:'#00BFC4',g4:'#C77CFF'};

// ---------- build ----------
const grids=[],xAxes=[],yAxes=[],series=[],graphic=[];
const SANS='Liberation Sans',SERIF='Liberation Serif';
series.push({type:'pie',center:[635.5,472],radius:[0,387],startAngle:90,clockwise:true,silent:true,
 itemStyle:{borderColor:'#fff',borderWidth:4},
 label:{show:true,position:'inside',color:'#000',fontFamily:SERIF,fontSize:24.5,lineHeight:29,align:'center',formatter:p=>pieLabels[p.dataIndex]},
 labelLine:{show:false},
 labelLayout:p=>({x:pieLabelAt[p.dataIndex][0],y:pieLabelAt[p.dataIndex][1],align:'center',verticalAlign:'middle'}),
 data:pieNames.map((n,i)=>({name:n,value:pieValues[i],itemStyle:{color:pieColors[i]}}))});
leaders.forEach(l=>graphic.push({type:'polyline',shape:{points:l},style:{stroke:'#A6A6A6',lineWidth:1.6,fill:null},z:5}));

kPanels.forEach(([k,rows,top])=>{
 const idx=grids.length;
 grids.push({left:1259,top:top,width:658,height:105,show:false,outerBoundsMode:'none'});
 xAxes.push({type:'value',gridIndex:idx,min:0,max:300,show:false});
 yAxes.push({type:'value',gridIndex:idx,min:0,max:100,position:'right',name:'K='+k,nameLocation:'middle',nameRotate:-90,nameGap:1,
   nameTextStyle:{fontFamily:SANS,fontSize:27,color:'#444'},axisLine:{show:false},axisTick:{show:false},axisLabel:{show:false},splitLine:{show:false}});
 const data=rows.map((r,i)=>{
   const h=[];let sum=0;
   for(let j=0;j<k-1;j++){const v=r[j+1]||0;h.push(v);sum+=v;}
   h.push(Math.max(0,100-sum));
   return [r[0],i+1<rows.length?rows[i+1][0]:300].concat(h);
 });
 series.push({type:'custom',xAxisIndex:idx,yAxisIndex:idx,silent:true,clip:true,data:data,
   encode:{x:[0,1],y:2},
   renderItem:(params,api)=>{
     const children=[];let t=100;
     const x0=Math.round(api.coord([api.value(0),0])[0]),x1=Math.round(api.coord([api.value(1),0])[0]);
     for(let j=0;j<k;j++){
       const h=api.value(2+j);if(!(h>0))continue;
       const y0=Math.round(api.coord([0,t])[1]),y1=Math.round(api.coord([0,Math.max(0,t-h)])[1]);t-=h;
       if(y1>y0)children.push({type:'rect',shape:{x:x0,y:y0,width:x1-x0,height:y1-y0},style:{fill:clusterColors[j]}});
     }
     return {type:'group',children};
   }});
});

function pcaPanel(g,groups,ell){
 const idx=grids.length;
 grids.push({left:g.left,top:g.top,width:g.right-g.left,height:g.bottom-g.top,show:true,backgroundColor:'#EBEBEB',borderWidth:0,outerBoundsMode:'none'});
 const lab={color:'#4D4D4D',fontFamily:SANS,fontSize:16};
 xAxes.push({type:'value',gridIndex:idx,min:g.xr[0],max:g.xr[1],name:'PC1 (6.79%)',nameLocation:'middle',nameGap:28,nameTextStyle:{fontFamily:SANS,fontSize:20.5,color:'#000'},
   axisLine:{show:false},splitLine:{show:false},axisTick:{show:true,length:5,customValues:g.xMajor,lineStyle:{color:'#333',width:1.5}},axisLabel:{...lab,margin:9,customValues:g.xMajor,showMinLabel:true,showMaxLabel:true}});
 yAxes.push({type:'value',gridIndex:idx,min:g.yr[0],max:g.yr[1],name:'PC2 (4.35%)',nameLocation:'middle',nameGap:39,nameTextStyle:{fontFamily:SANS,fontSize:20.5,color:'#000'},
   axisLine:{show:false},splitLine:{show:false},axisTick:{show:true,length:5,customValues:g.yMajor,lineStyle:{color:'#333',width:1.5}},axisLabel:{...lab,margin:9,customValues:g.yMajor,showMinLabel:true,showMaxLabel:true}});
 const gl=(pts,w)=>series.push({type:'line',xAxisIndex:idx,yAxisIndex:idx,data:pts,symbol:'none',silent:true,z:1,lineStyle:{color:'#fff',width:w}});
 g.xMinor.forEach(v=>gl([[v,g.yr[0]],[v,g.yr[1]]],1));
 g.yMinor.forEach(v=>gl([[g.xr[0],v],[g.xr[1],v]],1));
 g.xMajor.forEach(v=>gl([[v,g.yr[0]],[v,g.yr[1]]],2));
 g.yMajor.forEach(v=>gl([[g.xr[0],v],[g.xr[1],v]],2));
 groups.forEach(([name,c,pts])=>series.push({type:'scatter',name,xAxisIndex:idx,yAxisIndex:idx,data:pts,symbol:'circle',symbolSize:8.5,silent:true,z:3,itemStyle:{color:c,opacity:1}}));
 ell.forEach(([c,pts])=>series.push({type:'line',xAxisIndex:idx,yAxisIndex:idx,data:pts,smooth:0.35,symbol:'none',silent:true,z:4,lineStyle:{color:c,width:4}}));
}
pcaPanel({left:61.7,right:817.3,top:951.6,bottom:1715,xr:[-159.3,46.9],yr:[-68,66.4],xMajor:cXMajor,xMinor:cXMinor,yMajor:cYMajor,yMinor:cYMinor},
 [['group1',COL.g1,[...ptsOut,...ptsGreen,...ptsTeal]],['group2',COL.g3,[...ptsFar,...ptsMid,...ptsMidPurple]]],
 [[COL.g1,cEllipse1],[COL.g3,cEllipse2]]);
pcaPanel({left:1037.9,right:1799,top:945,bottom:1714,xr:[-139.7,44.8],yr:[-50.8,67.5],xMajor:dXMajor,xMinor:dXMinor,yMajor:dYMajor,yMinor:dYMinor},
 [['group1',COL.g1,[...ptsMid,...ptsOut]],['group2',COL.g2,ptsGreen],['group3',COL.g3,ptsTeal],['group4',COL.g4,[...ptsFar,...ptsMidPurple]]],
 [[COL.g1,dEllipse1],[COL.g2,dEllipse2],[COL.g3,dEllipse3],[COL.g4,dEllipse4]]);

function legend(x,y,items){
 graphic.push({type:'text',x:x,y:y,style:{text:'group',fontFamily:SANS,fontSize:20.5,fill:'#000',verticalAlign:'middle'}});
 items.forEach(([t,c],i)=>{
   const top=y+19+i*33.5;
   graphic.push({type:'rect',shape:{x:x,y:top,width:33.5,height:33.5},style:{fill:'#F2F2F2'}});
   graphic.push({type:'line',shape:{x1:x+3,y1:top+16.7,x2:x+30,y2:top+16.7},style:{stroke:c,lineWidth:3.5},z:2});
   graphic.push({type:'circle',shape:{cx:x+16.7,cy:top+16.7,r:4},style:{fill:c},z:3});
   graphic.push({type:'text',x:x+44,y:top+16.7,style:{text:t,fontFamily:SANS,fontSize:16.5,fill:'#000',verticalAlign:'middle'}});
 });
}
legend(849,1296,[['group1',COL.g1],['group2',COL.g3]]);
legend(1832,1258,[['group1',COL.g1],['group2',COL.g2],['group3',COL.g3],['group4',COL.g4]]);
[['A',3,45],['B',1203,46],['C',2,940],['D',973,940]].forEach(([t,x,y])=>graphic.push({type:'text',x,y,style:{text:t,fontFamily:SERIF,fontSize:58,fill:'#000',verticalAlign:'middle'},z:6}));

echarts.init(document.getElementById('c'),null,{renderer:'canvas'}).setOption({animation:false,backgroundColor:'#fff',grid:grids,xAxis:xAxes,yAxis:yAxes,series,graphic});
</script></body></html>
